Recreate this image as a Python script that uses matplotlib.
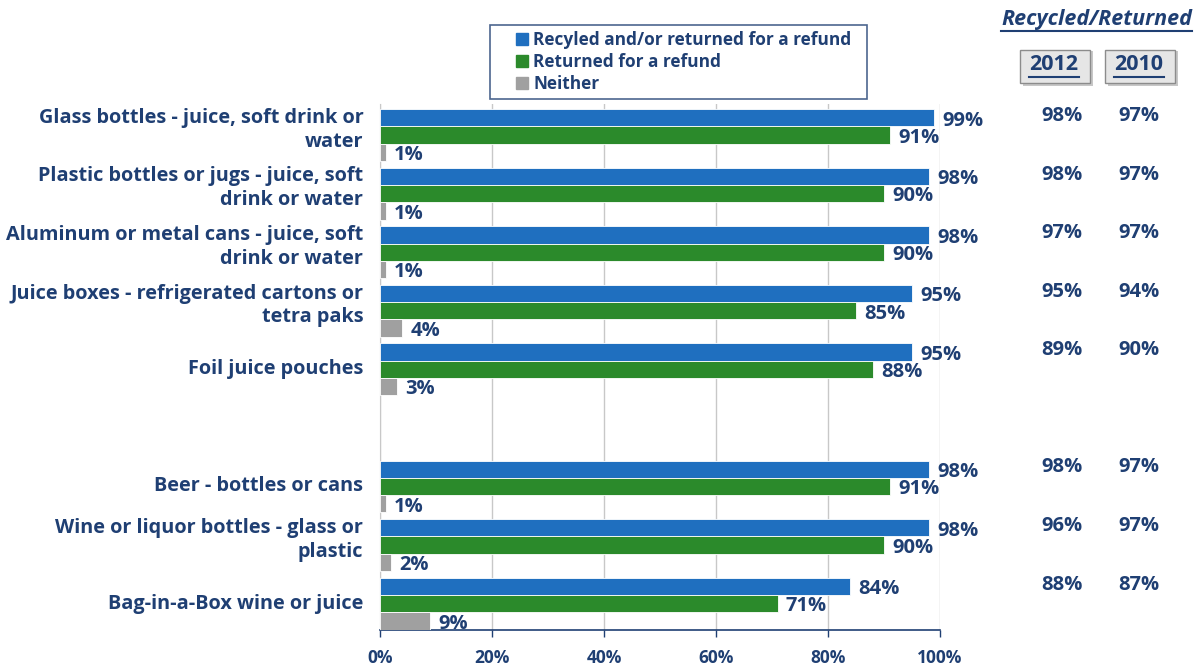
import matplotlib

matplotlib.use("Agg")
import matplotlib.pyplot as plt
from matplotlib.lines import Line2D
from matplotlib.patches import Rectangle
from matplotlib.transforms import blended_transform_factory

categories = [
    "Glass bottles - juice, soft drink or\nwater",
    "Plastic bottles or jugs - juice, soft\ndrink or water",
    "Aluminum or metal cans - juice, soft\ndrink or water",
    "Juice boxes - refrigerated cartons or\ntetra paks",
    "Foil juice pouches",
    "",
    "Beer - bottles or cans",
    "Wine or liquor bottles - glass or\nplastic",
    "Bag-in-a-Box wine or juice",
]
series_names = ["Recyled and/or returned for a refund", "Returned for a refund", "Neither"]
recycled_or_returned = [99, 98, 98, 95, 95, None, 98, 98, 84]
returned_refund = [91, 90, 90, 85, 88, None, 91, 90, 71]
neither = [1, 1, 1, 4, 3, None, 1, 2, 9]
prior_2012 = [98, 98, 97, 95, 89, None, 98, 96, 88]
prior_2010 = [97, 97, 97, 94, 90, None, 97, 97, 87]
x_ticks = [0, 20, 40, 60, 80, 100]

BLUE = "#1F6FBF"
GREEN = "#2B8A2B"
GRAY = "#A0A0A0"
NAVY = "#1F3F73"

W, H = 1201, 669
plt.rcParams.update({"font.family": ["Open Sans", "DejaVu Sans"], "font.weight": "bold"})
fig = plt.figure(figsize=(W / 100, H / 100), dpi=100)


def fx(px):
    return px / W


def fy(py):
    return 1 - py / H


ax = fig.add_axes([fx(380), fy(630), fx(940) - fx(380), fy(104) - fy(630)])

bh = 0.295
series = [
    (recycled_or_returned, -bh, BLUE),
    (returned_refund, 0.0, GREEN),
    (neither, bh, GRAY),
]
for (vals, off, color), label in zip(series, series_names):
    ys = [i + off for i, v in enumerate(vals) if v is not None]
    xs = [v for v in vals if v is not None]
    ax.barh(ys, xs, height=bh, color=color, edgecolor="white", linewidth=0.6,
            label=label, zorder=3)
    for x, y in zip(xs, ys):
        ax.annotate(f"{x}%", (x, y), textcoords="offset points", xytext=(6, -2),
                    ha="left", va="center", fontsize=14.5, fontweight="bold",
                    color=NAVY, zorder=4)

ax.set_xlim(0, 100)
ax.set_ylim(8.45, -0.53)
ax.set_xticks(x_ticks)
ax.set_xticklabels([f"{t}%" for t in x_ticks], fontsize=12.5, fontweight="bold", color=NAVY)
ax.set_yticks([])
ax.tick_params(axis="x", direction="out", length=5, color=NAVY, width=1, pad=9)
ax.grid(axis="x", color="#C8C8C8", linewidth=1, zorder=0)
for side in ("top", "right"):
    ax.spines[side].set_visible(False)
ax.spines["left"].set_color("#C8C8C8")
ax.spines["bottom"].set_color(NAVY)
ax.spines["bottom"].set_linewidth(1.2)

# category names: two-line ones sit a little higher than the group centre
for i, name in enumerate(categories):
    shift = -0.09 if "\n" in name else 0.0
    ax.annotate(name, (0, i + shift), textcoords="offset points", xytext=(-12, 0),
                ha="right", va="center", fontsize=14.3, fontweight="bold",
                color=NAVY, linespacing=1.25, annotation_clip=False)

handles = [Line2D([], [], ls="none", marker="s", ms=8.6, mfc=c, mec=c)
           for c in (BLUE, GREEN, GRAY)]
leg = fig.legend(handles, series_names, loc="upper left",
                 bbox_to_anchor=(fx(490), fy(97), fx(867) - fx(490), fy(25) - fy(97)),
                 mode="expand", frameon=True, fancybox=False, fontsize=12.4,
                 handlelength=3.0, handletextpad=-0.85, borderpad=0.35,
                 labelspacing=0.22, borderaxespad=0)
leg.get_frame().set_edgecolor(NAVY)
leg.get_frame().set_linewidth(1.2)
for t in leg.get_texts():
    t.set_color(NAVY)
    t.set_fontweight("bold")

# side columns: earlier survey years
fig.text(fx(1097), fy(19), "Recycled/Returned", ha="center", va="center",
         fontsize=15.5, fontstyle="italic", fontweight="bold", color=NAVY)
fig.add_artist(Line2D([fx(1001), fx(1192)], [fy(31), fy(31)], color=NAVY, lw=1.5))

tr = blended_transform_factory(fig.transFigure, ax.transData)
for bx, vx, year, vals in [(1055, 1062, "2012", prior_2012), (1140, 1139, "2010", prior_2010)]:
    fig.add_artist(Rectangle((fx(bx - 32), fy(86)), fx(70), fy(51) - fy(86),
                             facecolor="#9A9A9A", edgecolor="none", alpha=0.55,
                             transform=fig.transFigure))
    fig.add_artist(Rectangle((fx(bx - 35), fy(83)), fx(70), fy(50) - fy(83),
                             facecolor="#E6E6E6", edgecolor="#8C8C8C", lw=1,
                             transform=fig.transFigure))
    fig.text(fx(bx - 1), fy(65), year, ha="center", va="center", fontsize=15.5,
             fontweight="bold", color=NAVY)
    fig.add_artist(Line2D([fx(bx - 26), fx(bx + 24)], [fy(77), fy(77)],
                          color=NAVY, lw=1.5))
    for i, v in enumerate(vals):
        if v is None:
            continue
        ax.text(fx(vx), i - bh - 0.03, f"{v}%", transform=tr, ha="center",
                va="center", fontsize=14.5, fontweight="bold", color=NAVY)

fig.savefig("out.png", dpi=100)
